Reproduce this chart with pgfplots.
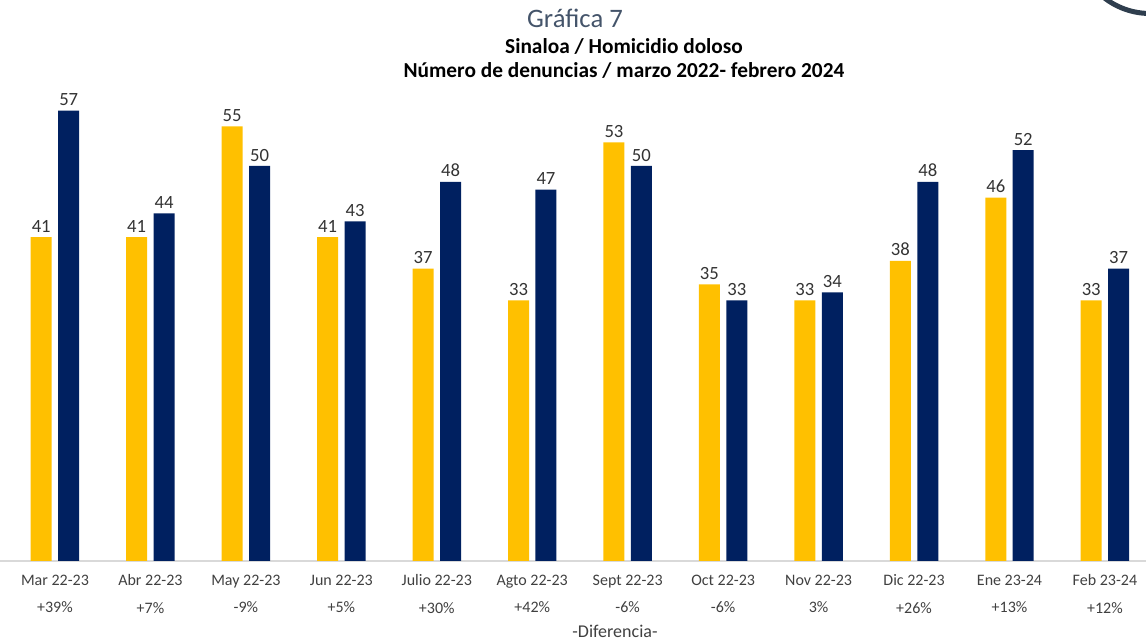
\documentclass[border=0pt]{standalone}
\usepackage{pgfplots}
\pgfplotsset{compat=1.18}
\usepackage{fontspec}
\setmainfont{Carlito}
\definecolor{amarillo}{HTML}{FFC000}
\definecolor{marino}{HTML}{002060}
\definecolor{gris}{HTML}{404040}
\definecolor{titulo}{HTML}{44546A}
\definecolor{aro}{HTML}{2F3E4E}

\begin{document}
\begin{tikzpicture}[x=0.75pt,y=0.75pt]
\path[use as bounding box] (0,0) rectangle (1146,642);
\begin{scope}
\clip (0,0) rectangle (1146,642);
\draw[aro, line width=3.75pt] (1150,703) circle (74.5);
\end{scope}
\node[text=titulo, font=\fontsize{20}{24}\selectfont] at (575,624) {Gráfica 7};
\node[font=\fontsize{16}{19}\selectfont\bfseries] at (624,595) {Sinaloa / Homicidio doloso};
\node[font=\fontsize{16}{19}\selectfont\bfseries] at (624,571) {Número de denuncias / marzo 2022- febrero 2024};
\node[text=gris, font=\fontsize{13.5}{15}\selectfont] at (615,11) {-Diferencia-};
\begin{axis}[
    at={(0pt,60.75pt)}, anchor=south west,
    scale only axis,
    width=859.5pt, height=355.5pt,
    ybar, bar width=15.75pt,
    xmin=-0.576, xmax=11.43,
    ymin=0, ymax=60,
    axis line style={draw=none},
    ytick=\empty,
    xtick={0,...,11},
    xtick style={draw=none},
    xticklabels={{Mar 22-23\\+39\%},{Abr 22-23\\+7\%},{May 22-23\\-9\%},{Jun 22-23\\+5\%},
      {Julio 22-23\\+30\%},{Agto 22-23\\+42\%},{Sept 22-23\\-6\%},{Oct 22-23\\-6\%},
      {Nov 22-23\\3\%},{Dic 22-23\\+26\%},{Ene 23-24\\+13\%},{Feb 23-24\\+12\%}},
    xticklabel style={align=center, text=gris, font=\fontsize{12}{20.5}\selectfont, yshift=-2.5pt},
    nodes near coords,
    nodes near coords style={font=\fontsize{14}{16}\selectfont, text=black!80, /pgf/number format/assume math mode=true},
    clip=false,
]
\draw[gray!30, line width=0.8pt] (rel axis cs:0,0) -- (rel axis cs:1,0);
\addplot[fill=amarillo, draw=none, bar shift=-10.3pt] coordinates {
    (0,41) (1,41) (2,55) (3,41) (4,37) (5,33) (6,53) (7,35) (8,33) (9,38) (10,46) (11,33)
};
\addplot[fill=marino, draw=none, bar shift=10.3pt] coordinates {
    (0,57) (1,44) (2,50) (3,43) (4,48) (5,47) (6,50) (7,33) (8,34) (9,48) (10,52) (11,37)
};
\end{axis}
\end{tikzpicture}
\end{document}
